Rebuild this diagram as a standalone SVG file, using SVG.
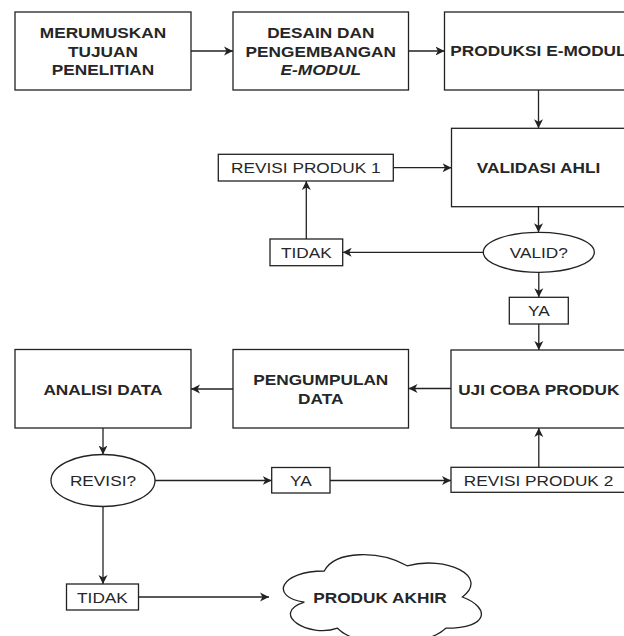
<svg xmlns="http://www.w3.org/2000/svg" width="624" height="636" viewBox="0 0 624 636">
<defs>
<style>
.box{fill:#fff;stroke:#222;stroke-width:1.3}
.ln{fill:none;stroke:#222;stroke-width:1.3;marker-end:url(#a)}
text{font-family:"Liberation Sans",Arial,sans-serif;font-size:15px;fill:#262626;text-anchor:middle;transform-box:fill-box;transform-origin:center;transform:scaleX(1.15)}
.b{font-weight:bold}
.i{font-style:italic}
</style>
<marker id="a" markerUnits="userSpaceOnUse" markerWidth="10" markerHeight="10" refX="9" refY="4.5" orient="auto" viewBox="0 0 10 9">
<path d="M0,0 L9,4.5 L0,9 L2.5,4.5 Z" fill="#222"/>
</marker>
</defs>
<rect width="624" height="636" fill="#fff"/>

<g id="connectors">
<path class="ln" d="M191,51 H233"/>
<path class="ln" d="M408.5,51 H444.5"/>
<path class="ln" d="M538.5,90 V128.3"/>
<path class="ln" d="M393.3,167.7 H451.5"/>
<path class="ln" d="M538.5,206.7 V232.3"/>
<path class="ln" d="M483.3,252.3 H342.7"/>
<path class="ln" d="M306.3,239 V181"/>
<path class="ln" d="M538.8,272.3 V297.3"/>
<path class="ln" d="M538.8,324 V350"/>
<path class="ln" d="M451,388.5 H408.5"/>
<path class="ln" d="M233,389 H191"/>
<path class="ln" d="M103,428 V454.5"/>
<path class="ln" d="M155,480.5 H271.7"/>
<path class="ln" d="M330,480.5 H451"/>
<path class="ln" d="M538.8,467.3 V428"/>
<path class="ln" d="M103,506.5 V584"/>
<path class="ln" d="M138.5,597 H269"/>
</g>

<g id="merumuskan">
<rect class="box" x="15" y="12" width="176" height="78"/>
<text class="b" x="103" y="38.5">MERUMUSKAN</text>
<text class="b" x="103" y="57">TUJUAN</text>
<text class="b" x="103" y="75.5">PENELITIAN</text>
</g>

<g id="desain">
<rect class="box" x="233" y="12" width="175.5" height="78"/>
<text class="b" x="320.8" y="38.3">DESAIN DAN</text>
<text class="b" x="320.8" y="56.7">PENGEMBANGAN</text>
<text class="b i" x="320.8" y="75">E-MODUL</text>
</g>

<g id="produksi">
<rect class="box" x="444.5" y="12" width="188" height="78"/>
<text class="b" x="538.5" y="56">PRODUKSI E-MODUL</text>
</g>

<g id="validasi">
<rect class="box" x="451.5" y="128.3" width="175" height="78.4"/>
<text class="b" x="538.5" y="173.3">VALIDASI AHLI</text>
</g>

<g id="revisi1">
<rect class="box" x="218.3" y="154.3" width="175" height="26.7"/>
<text x="305.8" y="173.3">REVISI PRODUK 1</text>
</g>

<g id="tidak1">
<rect class="box" x="270" y="239" width="72.7" height="26.7"/>
<text x="306.3" y="257.7">TIDAK</text>
</g>

<g id="valid">
<ellipse class="box" cx="538.8" cy="252.3" rx="55.5" ry="20"/>
<text x="538.8" y="258">VALID?</text>
</g>

<g id="ya1">
<rect class="box" x="509.3" y="297.3" width="59" height="26.7"/>
<text x="538.8" y="316.5">YA</text>
</g>

<g id="ujicoba">
<rect class="box" x="451" y="350" width="176" height="78"/>
<text class="b" x="538.8" y="395">UJI COBA PRODUK</text>
</g>

<g id="pengumpulan">
<rect class="box" x="233" y="349.5" width="175.5" height="78.5"/>
<text class="b" x="320.8" y="385">PENGUMPULAN</text>
<text class="b" x="320.8" y="404">DATA</text>
</g>

<g id="analisi">
<rect class="box" x="15" y="349.5" width="176" height="78.5"/>
<text class="b" x="103" y="395">ANALISI DATA</text>
</g>

<g id="revisiq">
<ellipse class="box" cx="103" cy="480.5" rx="52" ry="26"/>
<text x="103" y="486.5">REVISI?</text>
</g>

<g id="ya2">
<rect class="box" x="271.7" y="467.5" width="58.3" height="25.5"/>
<text x="300.8" y="486.5">YA</text>
</g>

<g id="revisi2">
<rect class="box" x="451" y="467.3" width="176" height="25"/>
<text x="538.5" y="485.7">REVISI PRODUK 2</text>
</g>

<g id="tidak2">
<rect class="box" x="66.5" y="584" width="72" height="26"/>
<text x="102.5" y="603.3">TIDAK</text>
</g>

<g id="produkakhir">
<path class="box" d="M324.25,571 C280.05,571 269,597 304.36,602.2 C269,613.64 308.78,638.6 337.51,628.2 C357.4,649 423.7,649 445.8,628.2 C490,628.2 490,607.4 462.375,597 C490,576.2 445.8,555.4 407.125,565.8 C379.5,550.2 335.3,550.2 324.25,571 Z"/>
<text class="b" x="380" y="603.3">PRODUK AKHIR</text>
</g>
</svg>
